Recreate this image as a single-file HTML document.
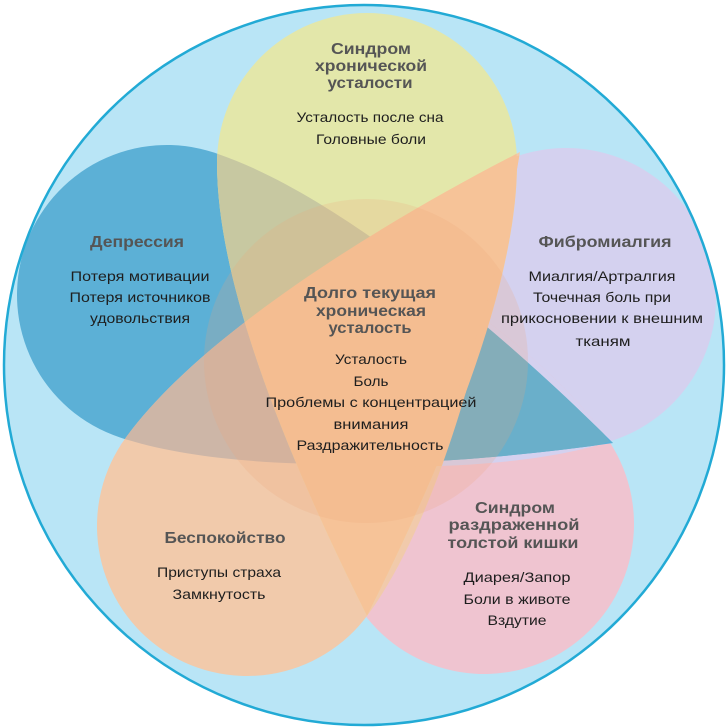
<!DOCTYPE html>
<html><head><meta charset="utf-8"><style>
html,body{margin:0;padding:0;background:#fff;}
svg{display:block;}
</style></head><body>
<svg width="728" height="728" viewBox="0 0 728 728" xmlns="http://www.w3.org/2000/svg" xmlns:xlink="http://www.w3.org/1999/xlink">
<defs>
<path id="pY" transform="translate(367,163)" d="M0,453 C-70,313 -150,130 -150,0 A150,150 0 0 1 150,0 C150,130 70,313 0,453 Z"/>
<path id="pB" transform="translate(167,295) rotate(-71.64)" d="M0,470 C-70,330 -150,130 -150,0 A150,150 0 0 1 150,0 C150,130 70,330 0,470 Z"/>
<path id="pL" transform="translate(566,298) rotate(71.75)" d="M0,470 C-70,330 -150,130 -150,0 A150,150 0 0 1 150,0 C150,130 70,330 0,470 Z"/>
<path id="pP" transform="translate(247,526) rotate(-143.88)" d="M0,463 C-70,323 -150,130 -150,0 A150,150 0 0 1 150,0 C150,130 70,323 0,463 Z"/>
<path id="pK" transform="translate(484,524) rotate(143.93)" d="M0,460 C-70,320 -150,130 -150,0 A150,150 0 0 1 150,0 C150,130 70,320 0,460 Z"/>
<clipPath id="cY"><use href="#pY" xlink:href="#pY"/></clipPath>
<clipPath id="cB"><use href="#pB" xlink:href="#pB"/></clipPath>
<clipPath id="cL"><use href="#pL" xlink:href="#pL"/></clipPath>
<clipPath id="cP"><use href="#pP" xlink:href="#pP"/></clipPath>
<clipPath id="cK"><use href="#pK" xlink:href="#pK"/></clipPath>
<clipPath id="cR"><rect x="400" y="0" width="328" height="728"/></clipPath>
<clipPath id="cR2"><rect x="380" y="0" width="348" height="728"/></clipPath>
<clipPath id="cR3"><path d="M514,148 L728,148 L728,480 L440,480 L455,400 L488,300 L500,250 Z"/></clipPath>
<clipPath id="cO"><circle cx="364" cy="365" r="360"/></clipPath>
</defs>

<rect width="728" height="728" fill="#ffffff"/>
<circle cx="364" cy="365" r="360" fill="#b9e5f6"/>

<g clip-path="url(#cO)">
  <use href="#pL" xlink:href="#pL" fill="#d4d1ef"/>
  <use href="#pK" xlink:href="#pK" fill="#efc4d0"/>
  <g clip-path="url(#cR)"><g clip-path="url(#cL)"><use href="#pK" xlink:href="#pK" fill="#d4d1ef"/></g></g>
  <use href="#pB" xlink:href="#pB" fill="#5cb0d6"/>
  <use href="#pP" xlink:href="#pP" fill="#f1caab"/>
  <g clip-path="url(#cB)"><use href="#pP" xlink:href="#pP" fill="#cdb6a7"/></g>
  <use href="#pY" xlink:href="#pY" fill="#e3e7aa"/>
  <g clip-path="url(#cY)"><use href="#pB" xlink:href="#pB" fill="#c7c8a1"/></g>
  <g clip-path="url(#cR)"><g clip-path="url(#cB)"><g clip-path="url(#cK)"><use href="#pL" xlink:href="#pL" fill="#6aafca"/></g></g></g>
  <g clip-path="url(#cY)"><use href="#pP" xlink:href="#pP" fill="#f6c398"/></g>
  <g clip-path="url(#cR2)"><g clip-path="url(#cL)"><use href="#pP" xlink:href="#pP" fill="#f6c398"/></g></g>
  <g clip-path="url(#cR3)"><g clip-path="url(#cL)"><use href="#pY" xlink:href="#pY" fill="#f6c398"/></g></g>
  <circle cx="366" cy="361" r="162" fill="rgb(240,165,120)" fill-opacity="0.2"/>
</g>

<circle cx="364" cy="365" r="360" fill="none" stroke="#22aad5" stroke-width="2.5"/>

<g font-family="'Liberation Sans', Arial, sans-serif" text-anchor="middle">
 <g font-weight="bold" font-size="16" fill="#555555">
  <text x="371" y="54" textLength="80" lengthAdjust="spacingAndGlyphs">Синдром</text>
  <text x="371" y="71" textLength="112" lengthAdjust="spacingAndGlyphs">хронической</text>
  <text x="370" y="88" textLength="85" lengthAdjust="spacingAndGlyphs">усталости</text>

  <text x="137" y="247" textLength="94" lengthAdjust="spacingAndGlyphs">Депрессия</text>
  <text x="605" y="247" textLength="133" lengthAdjust="spacingAndGlyphs">Фибромиалгия</text>

  <text x="370" y="298" textLength="132" lengthAdjust="spacingAndGlyphs">Долго текущая</text>
  <text x="371" y="316" textLength="110" lengthAdjust="spacingAndGlyphs">хроническая</text>
  <text x="370" y="333" textLength="83" lengthAdjust="spacingAndGlyphs">усталость</text>

  <text x="225" y="543" textLength="121" lengthAdjust="spacingAndGlyphs">Беспокойство</text>

  <text x="515" y="513" textLength="80" lengthAdjust="spacingAndGlyphs">Синдром</text>
  <text x="514" y="530" textLength="131" lengthAdjust="spacingAndGlyphs">раздраженной</text>
  <text x="513" y="548" textLength="131" lengthAdjust="spacingAndGlyphs">толстой кишки</text>
 </g>
 <g font-size="14" fill="#1e1e1e">
  <text x="370" y="122" textLength="147" lengthAdjust="spacingAndGlyphs">Усталость после сна</text>
  <text x="371" y="144" textLength="110" lengthAdjust="spacingAndGlyphs">Головные боли</text>

  <text x="140" y="281" textLength="139" lengthAdjust="spacingAndGlyphs">Потеря мотивации</text>
  <text x="140" y="302" textLength="141" lengthAdjust="spacingAndGlyphs">Потеря источников</text>
  <text x="140" y="323" textLength="100" lengthAdjust="spacingAndGlyphs">удовольствия</text>

  <text x="602" y="281" textLength="147" lengthAdjust="spacingAndGlyphs">Миалгия/Артралгия</text>
  <text x="602" y="302" textLength="138" lengthAdjust="spacingAndGlyphs">Точечная боль при</text>
  <text x="602" y="323" textLength="202" lengthAdjust="spacingAndGlyphs">прикосновении к внешним</text>
  <text x="603" y="346" textLength="55" lengthAdjust="spacingAndGlyphs">тканям</text>

  <text x="371" y="364" textLength="72" lengthAdjust="spacingAndGlyphs">Усталость</text>
  <text x="371" y="386" textLength="35" lengthAdjust="spacingAndGlyphs">Боль</text>
  <text x="371" y="407" textLength="211" lengthAdjust="spacingAndGlyphs">Проблемы с концентрацией</text>
  <text x="371" y="429" textLength="75" lengthAdjust="spacingAndGlyphs">внимания</text>
  <text x="370" y="450" textLength="147" lengthAdjust="spacingAndGlyphs">Раздражительность</text>

  <text x="219" y="577" textLength="124" lengthAdjust="spacingAndGlyphs">Приступы страха</text>
  <text x="219" y="599" textLength="93" lengthAdjust="spacingAndGlyphs">Замкнутость</text>

  <text x="517" y="582" textLength="107" lengthAdjust="spacingAndGlyphs">Диарея/Запор</text>
  <text x="517" y="604" textLength="107" lengthAdjust="spacingAndGlyphs">Боли в животе</text>
  <text x="517" y="625" textLength="59" lengthAdjust="spacingAndGlyphs">Вздутие</text>
 </g>
</g>
</svg>
</body></html>
